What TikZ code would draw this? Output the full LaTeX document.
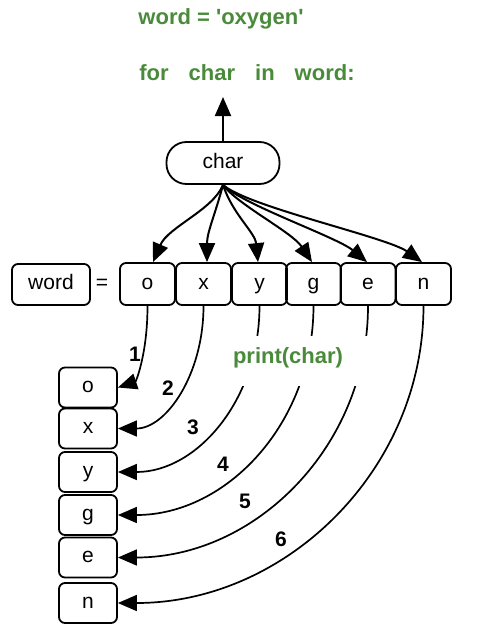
\documentclass[tikz,border=0pt]{standalone}
\usepackage{fontspec}
\setmainfont{Liberation Sans}
\usetikzlibrary{arrows.meta}
\definecolor{codegreen}{RGB}{74,139,59}
\begin{document}
\begin{tikzpicture}[x=1pt,y=-1pt,
  box/.style={draw, line width=1.8pt, rounded corners=6pt, inner sep=0pt, font=\fontsize{21}{25}\selectfont, text height=15pt, text depth=5pt},
  letterbox/.style={box, minimum width=55pt, minimum height=42pt},
  listbox/.style={box, minimum width=58pt, minimum height=40pt},
  code/.style={text=codegreen, font=\fontsize{22}{26}\selectfont\bfseries, inner sep=0pt},
  num/.style={font=\fontsize{21}{25}\selectfont\bfseries, inner sep=0pt},
  fan/.style={line width=2pt, -{Triangle[length=19pt,width=16pt]}},
  flow/.style={line width=1.7pt, -{Triangle[length=19pt,width=16pt]}},
]
\useasboundingbox (0,0) rectangle (480,642);

% code text
\node[code] (title) at (221,19) {word = \textquotesingle oxygen\textquotesingle};
\node[code] (loop) at (247,73) {for\hspace{20pt}char\hspace{20pt}in\hspace{20pt}word:};

% char
\node[box, minimum width=113pt, minimum height=42pt, rounded corners=20pt] (char) at (223,163) {char};
\coordinate (up) at (223,97);
\draw[fan] (char.north) -- (up);

% word = o x y g e n
\node[box, minimum width=78pt, minimum height=41pt] (word) at (51,284.5) {word};
\node[font=\fontsize{21}{25}\selectfont, inner sep=0pt] (eq) at (102,284) {=};
\node[letterbox] (o) at (147.5,284) {o};
\node[letterbox] (x) at (203.5,284) {x};
\node[letterbox] (y) at (259.5,284) {y};
\node[letterbox] (g) at (313.5,284) {g};
\node[letterbox] (e) at (368,284) {e};
\node[letterbox] (n) at (423.5,284) {n};

% fan arrows from char
\draw[fan] (char.south) .. controls +(-10,25) and +(15,-35) .. ([xshift=5.5pt]o.north);
\draw[fan] (char.south) .. controls +(-8,30) and +(0,-30) .. ([xshift=3.5pt]x.north);
\draw[fan] (char.south) .. controls +(10,30) and +(-3,-30) .. ([xshift=-1.5pt]y.north);
\draw[fan] (char.south) .. controls +(15,20) and +(-20,-30) .. ([xshift=-1.5pt]g.north);
\draw[fan] (char.south) .. controls +(20,20) and +(-30,-25) .. ([xshift=-1pt]e.north);
\draw[fan] (char.south) .. controls +(25,22) and +(-35,-25) .. ([xshift=-1.5pt]n.north);

% list boxes
\node[listbox] (lo) at (88,387.5) {o};
\node[listbox] (lx) at (88,428.5) {x};
\node[listbox] (ly) at (88,472) {y};
\node[listbox] (lg) at (88,515) {g};
\node[listbox] (le) at (88,557.5) {e};
\node[listbox] (ln) at (88,603) {n};

% flow arrows
\draw[flow] (o.south) .. controls +(0,48) and +(18,-6) .. (lo.east);
\draw[flow] (x.south) .. controls +(0,69) and +(48,0) .. (lx.east);
\draw[flow] (y.south) .. controls +(0,94) and +(79,0) .. (ly.east);
\draw[flow] (g.south) .. controls +(0,117) and +(109,0) .. (lg.east);
\draw[flow] (e.south) .. controls +(0,140) and +(138,0) .. (le.east);
\draw[flow] (n.south) .. controls +(0,163) and +(169,0) .. (ln.east);

% gap behind the label
\node[fill=white, minimum width=185pt, minimum height=50pt, inner sep=0pt] (gap) at (307.5,361) {};
\node[code] (print) at (288,358) {print(char)};

% numbers
\node[num] (n1) at (135,354) {1};
\node[num] (n2) at (168,388) {2};
\node[num] (n3) at (193,427) {3};
\node[num] (n4) at (223,464) {4};
\node[num] (n5) at (245,501) {5};
\node[num] (n6) at (281,539) {6};
\end{tikzpicture}
\end{document}
